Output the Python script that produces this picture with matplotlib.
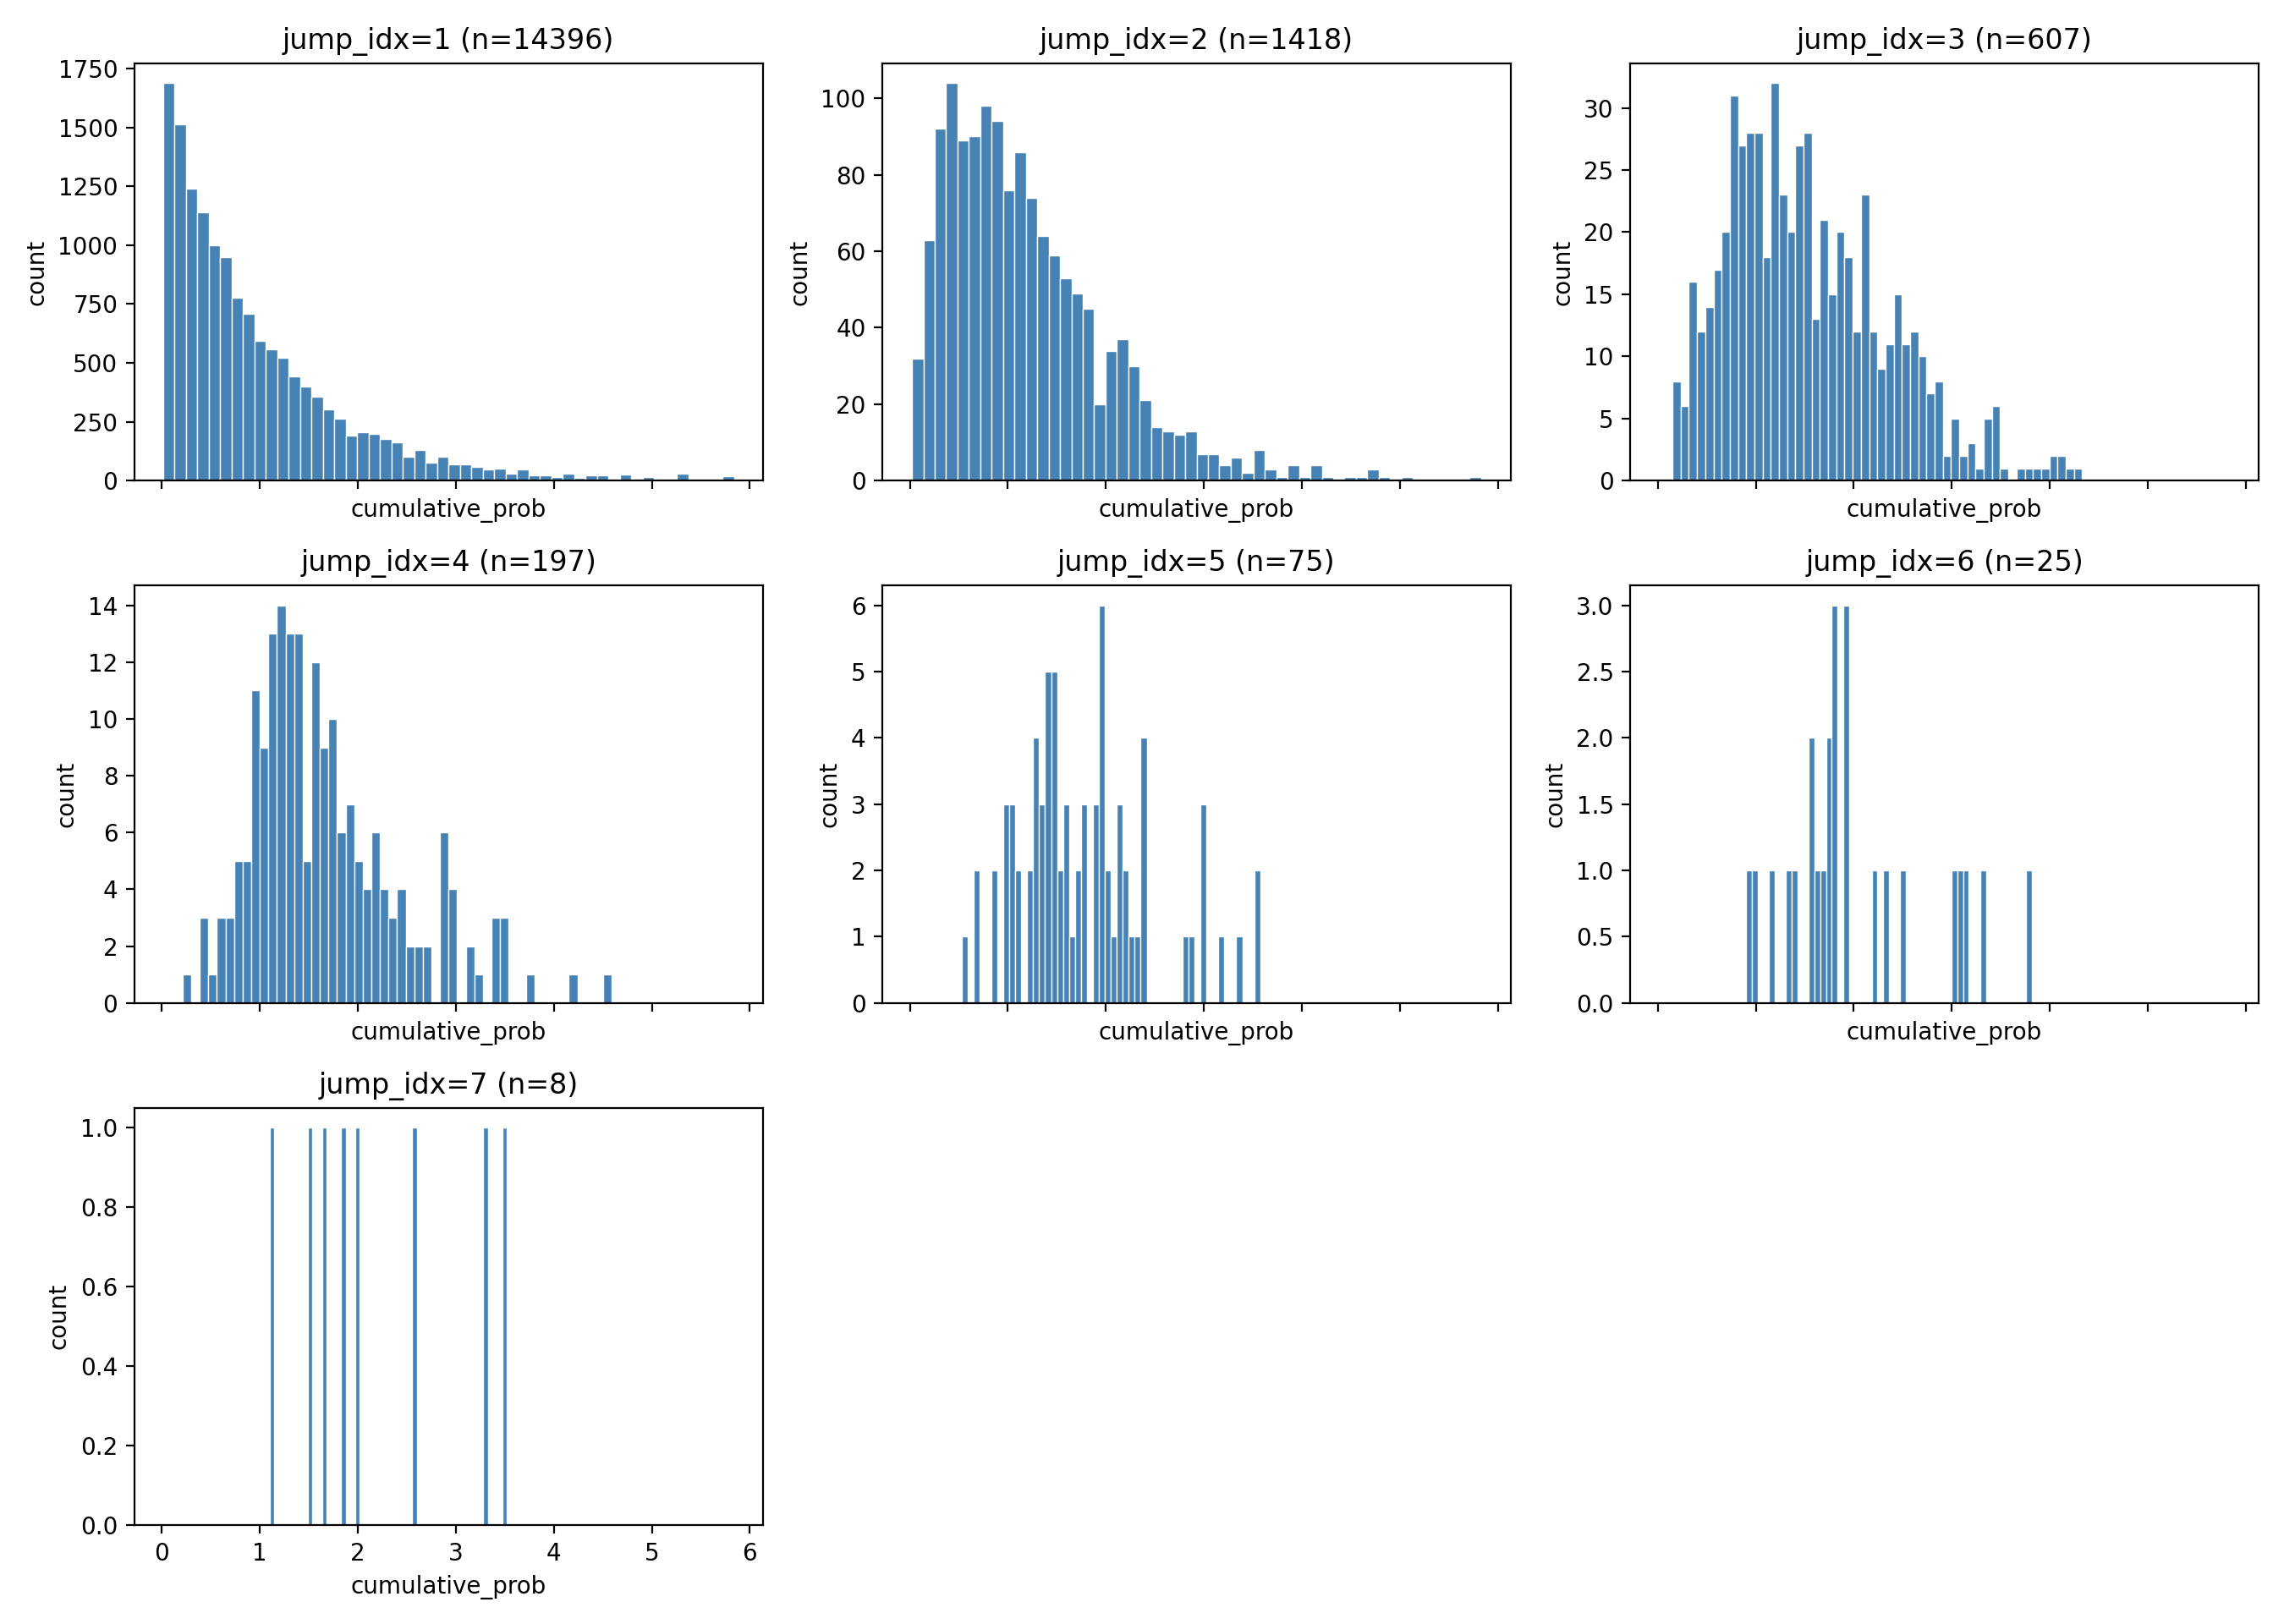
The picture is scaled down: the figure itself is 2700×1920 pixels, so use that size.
import numpy as np
import matplotlib
matplotlib.use("Agg")
from matplotlib import pyplot as plt

# jump index, sample size, and per-panel histogram range (50 equal bins each)
jump_idx = [1, 2, 3, 4, 5, 6, 7]
sample_n = [14396, 1418, 607, 197, 75, 25, 8]
bin_lo = [0.01, 0.022, 0.15, 0.211, 0.527, 0.90, 1.10]
bin_hi = [5.84, 5.83, 4.33, 4.59, 3.575, 3.815, 3.52]

counts_1 = [1688, 1511, 1239, 1139, 999, 949, 775, 707, 592, 557,
            521, 443, 400, 357, 303, 264, 190, 207, 200, 178,
            164, 100, 132, 75, 103, 68, 71, 57, 46, 50,
            30, 46, 22, 22, 15, 30, 12, 22, 22, 0,
            26, 0, 15, 0, 0, 30, 0, 0, 0, 19]
counts_2 = [32, 63, 92, 104, 89, 90, 98, 94, 76, 86,
            74, 64, 59, 53, 49, 45, 20, 34, 37, 30,
            21, 14, 13, 12, 13, 7, 7, 4, 6, 2,
            8, 3, 1, 4, 1, 4, 1, 0, 1, 1,
            3, 1, 0, 1, 0, 0, 0, 0, 0, 1]
counts_3 = [8, 6, 16, 12, 14, 17, 20, 31, 27, 28,
            28, 18, 32, 23, 20, 27, 28, 13, 21, 15,
            20, 18, 12, 23, 12, 9, 11, 15, 11, 12,
            10, 7, 8, 2, 5, 2, 3, 1, 5, 6,
            1, 0, 1, 1, 1, 1, 2, 2, 1, 1]
counts_4 = [1, 0, 3, 1, 3, 3, 5, 5, 11, 9,
            13, 14, 13, 13, 5, 12, 9, 10, 6, 7,
            5, 4, 6, 4, 3, 4, 2, 2, 2, 0,
            6, 4, 0, 2, 1, 0, 3, 3, 0, 0,
            1, 0, 0, 0, 0, 1, 0, 0, 0, 1]
counts_5 = [1, 0, 2, 0, 0, 2, 0, 3, 3, 2,
            0, 2, 4, 3, 5, 5, 2, 3, 1, 2,
            3, 0, 3, 6, 2, 1, 3, 2, 1, 1,
            4, 0, 0, 0, 0, 0, 0, 1, 1, 0,
            3, 0, 0, 1, 0, 0, 1, 0, 0, 2]
counts_6 = [1, 1, 0, 0, 1, 0, 0, 1, 1, 0,
            0, 2, 1, 1, 2, 3, 0, 3, 0, 0,
            0, 0, 1, 0, 1, 0, 0, 1, 0, 0,
            0, 0, 0, 0, 0, 0, 1, 1, 1, 0,
            0, 1, 0, 0, 0, 0, 0, 0, 0, 1]
counts_7 = [1, 0, 0, 0, 0, 0, 0, 0, 1, 0,
            0, 1, 0, 0, 0, 1, 0, 0, 1, 0,
            0, 0, 0, 0, 0, 0, 0, 0, 0, 0,
            1, 0, 0, 0, 0, 0, 0, 0, 0, 0,
            0, 0, 0, 0, 0, 1, 0, 0, 0, 1]

all_counts = [counts_1, counts_2, counts_3, counts_4, counts_5, counts_6, counts_7]

fig, axes = plt.subplots(3, 3, figsize=(13.5, 9.6), sharex=True)

for ax, j, n, lo, hi, cnt in zip(axes.flat, jump_idx, sample_n, bin_lo, bin_hi, all_counts):
    edges = np.linspace(lo, hi, len(cnt) + 1)
    centers = 0.5 * (edges[:-1] + edges[1:])
    ax.hist(centers, bins=edges, weights=cnt, color="steelblue",
            edgecolor="white", linewidth=0.5)
    ax.set_title(f"jump_idx={j} (n={n})")
    ax.set_xlabel("cumulative_prob")
    ax.set_ylabel("count")

for ax in axes.flat[len(jump_idx):]:
    ax.axis("off")

plt.tight_layout()
plt.savefig("out.png", dpi=200)
